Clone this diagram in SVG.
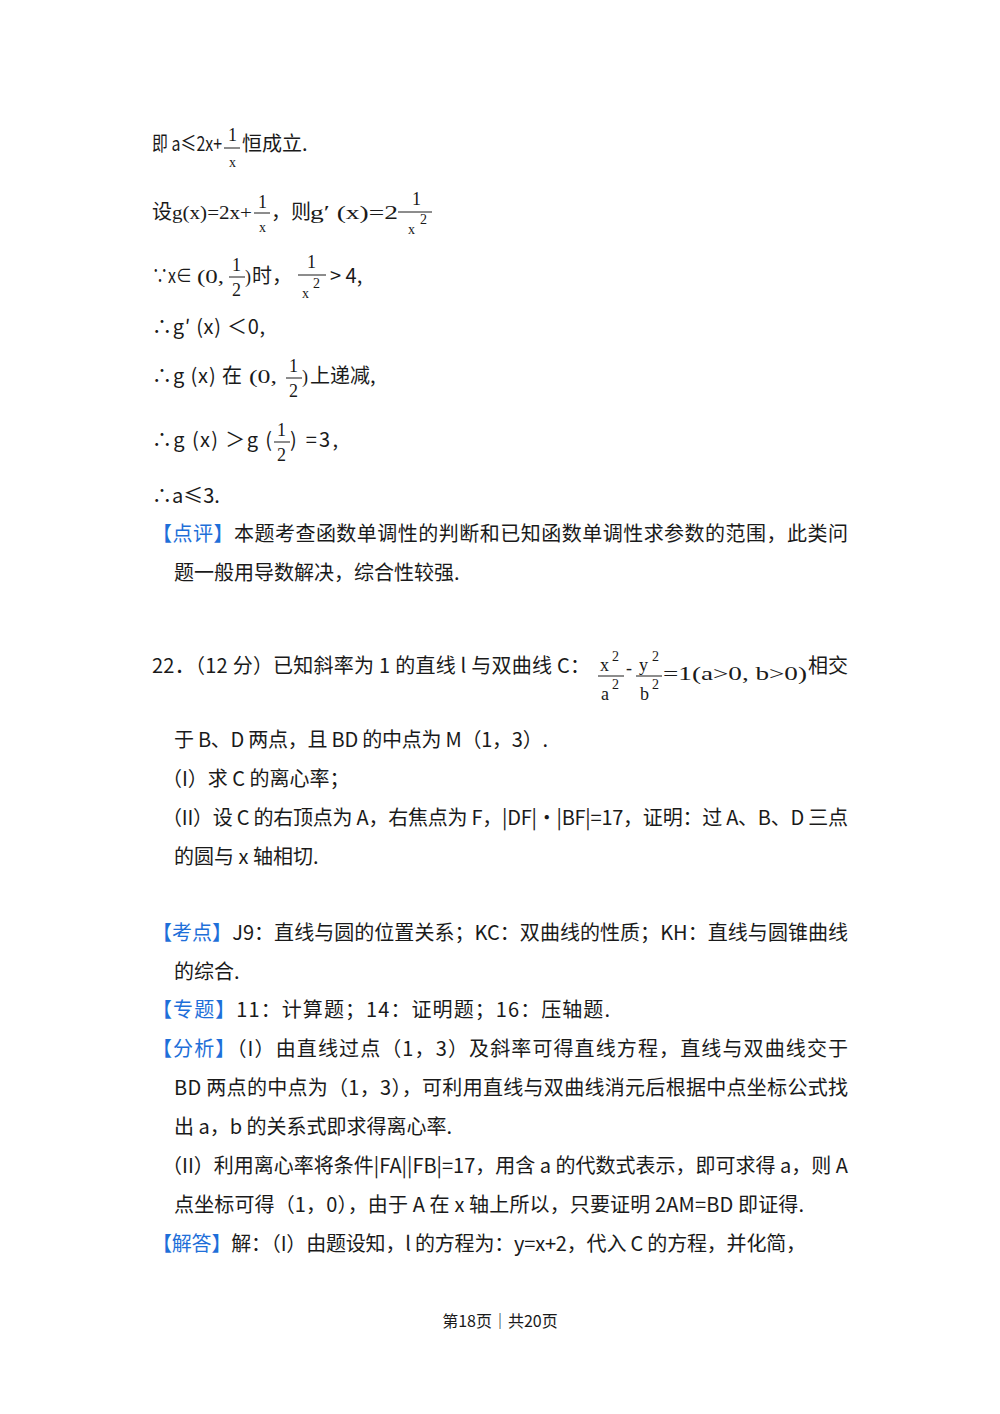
<svg xmlns="http://www.w3.org/2000/svg" width="1000" height="1414" viewBox="0 0 1000 1414">
<style>
text{font-family:"Noto Sans CJK SC","Noto Sans",sans-serif;font-size:20px;fill:#1a1a1a}
.m{font-family:"Liberation Serif","Noto Sans CJK SC",serif;font-size:18px}
.s{font-size:14px}
.b{fill:#1e6fd9}
.f{font-size:16px}
line{stroke:#1a1a1a;stroke-width:1}
</style>
<rect width="1000" height="1414" fill="#fff"/>
<text x="152" y="151" textLength="70" lengthAdjust="spacingAndGlyphs">即 a≤2x+</text>
<text x="228" y="141" class="m">1</text><line x1="224" y1="148" x2="240" y2="148"/><text x="229" y="167" class="m s">x</text>
<text x="242" y="151">恒成立.</text>

<text x="152" y="219">设</text>
<text x="172" y="219" class="m" textLength="80" lengthAdjust="spacingAndGlyphs">g(x)=2x+</text>
<text x="258" y="208" class="m">1</text><line x1="254" y1="213" x2="270" y2="213"/><text x="259" y="232" class="m s">x</text>
<text x="271" y="219">，则</text>
<text x="310" y="219" class="m" textLength="88" lengthAdjust="spacingAndGlyphs">g′ (x)=2</text>
<text x="412" y="205" class="m">1</text><line x1="398" y1="212" x2="432" y2="212"/><text x="408" y="234" class="m s">x</text><text x="420" y="224" class="m s">2</text>

<text x="152" y="283" textLength="40" lengthAdjust="spacingAndGlyphs">∵x∈</text>
<text x="197" y="283" class="m" textLength="27" lengthAdjust="spacingAndGlyphs">(0,</text>
<text x="232" y="271" class="m">1</text><line x1="229" y1="277" x2="245" y2="277"/><text x="232" y="296" class="m">2</text>
<text x="245" y="283" class="m">)</text><text x="252" y="283">时，</text>
<text x="307" y="268" class="m">1</text><line x1="298" y1="275" x2="326" y2="275"/><text x="302" y="298" class="m s">x</text><text x="313" y="288" class="m s">2</text>
<text x="330" y="283">&gt; 4,</text>

<text x="152" y="334" textLength="113" lengthAdjust="spacing">∴g′ (x) ＜0,</text>

<text x="152" y="383" textLength="90" lengthAdjust="spacing">∴g (x) 在</text>
<text x="249" y="383" class="m" textLength="28" lengthAdjust="spacingAndGlyphs">(0,</text>
<text x="289" y="372" class="m">1</text><line x1="286" y1="378" x2="302" y2="378"/><text x="289" y="397" class="m">2</text>
<text x="302" y="383" class="m">)</text><text x="310" y="383">上递减,</text>

<text x="152" y="447" textLength="120" lengthAdjust="spacing">∴g (x) ＞g (</text>
<text x="277" y="436" class="m">1</text><line x1="274" y1="442" x2="290" y2="442"/><text x="277" y="461" class="m">2</text>
<text x="290" y="447" textLength="48" lengthAdjust="spacing">) =3,</text>

<text x="152" y="503">∴a≤3.</text>

<text x="152" y="541" textLength="696" lengthAdjust="spacing"><tspan class="b">【点评】</tspan>本题考查函数单调性的判断和已知函数单调性求参数的范围，此类问</text>
<text x="174" y="580">题一般用导数解决，综合性较强.</text>

<text x="152" y="673" textLength="438" lengthAdjust="spacing">22．（12 分）已知斜率为 1 的直线 l 与双曲线 C：</text>
<text x="600" y="671" class="m">x</text><text x="612" y="661" class="m s">2</text><line x1="598" y1="676" x2="624" y2="676"/><text x="601" y="700" class="m">a</text><text x="612" y="689" class="m s">2</text>
<text x="626" y="674" class="m">-</text>
<text x="639" y="671" class="m">y</text><text x="652" y="661" class="m s">2</text><line x1="636" y1="676" x2="662" y2="676"/><text x="640" y="700" class="m">b</text><text x="652" y="689" class="m s">2</text>
<text x="663" y="680" class="m" textLength="144" lengthAdjust="spacingAndGlyphs">=1(a&gt;0, b&gt;0)</text>
<text x="808" y="673">相交</text>

<text x="174" y="747" textLength="374" lengthAdjust="spacing">于 B、D 两点，且 BD 的中点为 M（1，3）.</text>
<text x="162" y="786">（I）求 C 的离心率；</text>
<text x="162" y="825" textLength="686" lengthAdjust="spacing">（II）设 C 的右顶点为 A，右焦点为 F，|DF|•|BF|=17，证明：过 A、B、D 三点</text>
<text x="174" y="864">的圆与 x 轴相切.</text>

<text x="152" y="940" textLength="696" lengthAdjust="spacing"><tspan class="b">【考点】</tspan>J9：直线与圆的位置关系；KC：双曲线的性质；KH：直线与圆锥曲线</text>
<text x="174" y="979">的综合.</text>
<text x="152" y="1017" textLength="458" lengthAdjust="spacing"><tspan class="b">【专题】</tspan>11：计算题；14：证明题；16：压轴题.</text>
<text x="152" y="1056" textLength="696" lengthAdjust="spacing"><tspan class="b">【分析】</tspan>（I）由直线过点（1，3）及斜率可得直线方程，直线与双曲线交于</text>
<text x="174" y="1095" textLength="674" lengthAdjust="spacing">BD 两点的中点为（1，3），可利用直线与双曲线消元后根据中点坐标公式找</text>
<text x="174" y="1134" textLength="278" lengthAdjust="spacing">出 a，b 的关系式即求得离心率.</text>
<text x="162" y="1173" textLength="686" lengthAdjust="spacing">（II）利用离心率将条件|FA||FB|=17，用含 a 的代数式表示，即可求得 a，则 A</text>
<text x="174" y="1212" textLength="630" lengthAdjust="spacing">点坐标可得（1，0），由于 A 在 x 轴上所以，只要证明 2AM=BD 即证得.</text>
<text x="152" y="1251" textLength="654" lengthAdjust="spacing"><tspan class="b">【解答】</tspan>解：（I）由题设知，l 的方程为：y=x+2，代入 C 的方程，并化简，</text>

<text x="500" y="1327" text-anchor="middle" class="f">第18页｜共20页</text>
</svg>
